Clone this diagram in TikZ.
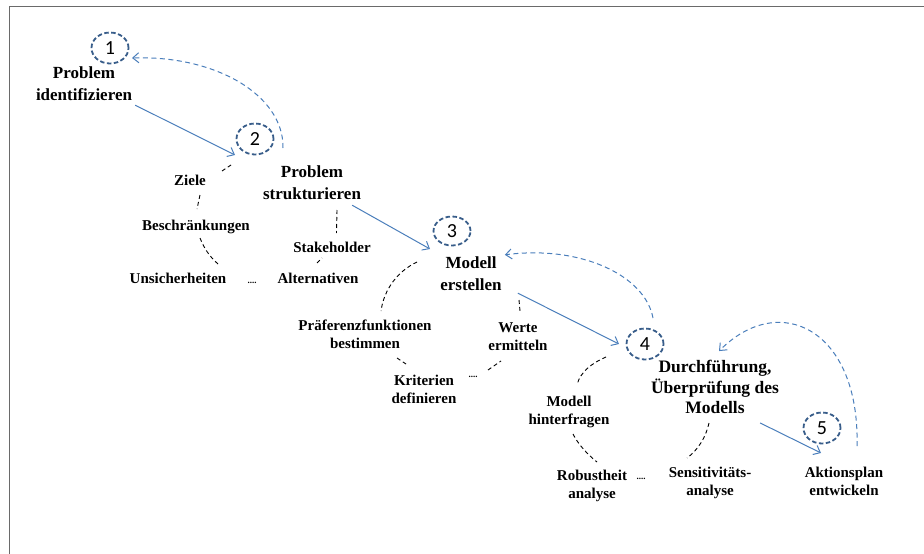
\documentclass[tikz,border=0pt]{standalone}
\usepackage{fontspec}
\setmainfont{Liberation Serif}
\newfontfamily\numfont{Carlito}
\usetikzlibrary{arrows.meta,shapes.geometric,calc}
\definecolor{cblue}{HTML}{385D8A}
\definecolor{ablue}{HTML}{4A7EBB}
\definecolor{framegray}{HTML}{6A6A6A}
\begin{document}
\begin{tikzpicture}[x=1pt,y=-1pt,
 numc/.style={ellipse, draw=cblue, line width=1.8pt, dash pattern=on 4.5pt off 2.5pt, minimum width=37pt, minimum height=31pt, inner sep=0pt, font=\numfont\fontsize{20}{20}\selectfont},
 big/.style={align=center, font=\bfseries\fontsize{17}{22}\selectfont, inner sep=1pt},
 small/.style={align=center, font=\bfseries\fontsize{15}{18}\selectfont, inner sep=1pt},
 flow/.style={draw=ablue, line width=1pt, -{Straight Barb[length=6pt,width=10pt]}},
 back/.style={flow, dash pattern=on 5pt off 3.5pt},
 arcdash/.style={draw=black, line width=0.9pt, dash pattern=on 4pt off 3pt},
 dotsl/.style={font=\bfseries\fontsize{9}{9}\selectfont, inner sep=0pt}
]
\useasboundingbox (0,0) rectangle (924,554);
% frame
\draw[framegray, line width=1.6pt] (9.5,554) -- (9.5,6.5) -- (924,6.5);

% step 1
\node[numc] (c1) at (110,48) {1};
\node[big] (l1) at (84,84) {Problem\\identifizieren};

% step 2
\node[numc] (c2) at (255,139) {2};
\node[big] (l2) at (312,183) {Problem\\strukturieren};
\node[small] (ziele) at (190,180) {Ziele};
\node[small] (beschr) at (196,227) {Beschränkungen};
\node[small] (unsich) at (178,278) {Unsicherheiten};
\node[dotsl] (dots2) at (252,283) {....};
\node[small] (alt) at (318,278) {Alternativen};
\node[small] (stake) at (332,247) {Stakeholder};

% step 3
\node[numc, minimum height=29pt] (c3) at (452,231) {3};
\node[big] (l3) at (471,274) {Modell\\erstellen};
\node[small] (praef) at (365,334) {Präferenzfunktionen\\bestimmen};
\node[small] (krit) at (424,389) {Kriterien\\definieren};
\node[dotsl] (dots3) at (473,377) {....};
\node[small] (werte) at (518,337) {Werte\\ermitteln};

% step 4
\node[numc] (c4) at (645,344) {4};
\node[big, font=\bfseries\fontsize{17.5}{20.5}\selectfont] (l4) at (715,387) {Durchführung,\\Überprüfung des\\Modells};
\node[small] (modell) at (569,412) {Modell\\hinterfragen};
\node[small] (robust) at (592,486) {Robustheit\\analyse};
\node[dotsl] (dots4) at (641,479) {....};
\node[small] (sens) at (710,483) {Sensitivitäts-\\analyse};

% step 5
\node[numc] (c5) at (822,428) {5};
\node[small] (l5) at (844,481) {Aktionsplan\\entwickeln};

% forward arrows
\draw[flow] ($(l1.south east)+(2,3)$) -- ($(c2)+(-20,16)$);
\draw[flow] ($(l2.south east)+(-10,4)$) -- ($(c3)+(-22,18)$);
\draw[flow] ($(l3.south east)+(15,1)$) -- ($(c4)+(-26,0)$);
\draw[flow] ($(l4.south east)+(-20,8)$) -- ($(c5)+(-1,25)$);

% backward dashed arrows
\draw[back] ($(c2)+(28,9)$) .. controls (284,95) and (215,55) .. ($(c1)+(22,10)$);
\draw[back] ($(c4)+(8,-26)$) .. controls (645,275) and (580,245) .. ($(l3.north east)+(2,-1)$);
\draw[back] ($(c5)+(35,18)$) .. controls (860,330) and (780,290) .. ($(l4.north)+(4,-8)$);

% dashed arc pieces, cluster 2
\draw[arcdash] (222,171) -- (231,165);
\draw[arcdash] (200,195) -- (197,209);
\draw[arcdash] (200,238) .. controls (204,248) and (209,256) .. (218,264);
\draw[arcdash] (317,263) -- (322,258);
\draw[arcdash] (337,210) -- (336.5,233);
% cluster 3
\draw[arcdash] (417,262) .. controls (398,271) and (384,289) .. (381,311);
\draw[arcdash] (397,358) -- (406,364);
\draw[arcdash] (488,370) -- (501,361);
\draw[arcdash] (519,300) -- (520,311);
% cluster 4
\draw[arcdash] (606,357) .. controls (592,363) and (580,372) .. (577,385);
\draw[arcdash] (573,434) .. controls (578,444) and (587,454) .. (597,462);
\draw[arcdash] (709,423) .. controls (706,437) and (698,450) .. (687,458);
\end{tikzpicture}
\end{document}
